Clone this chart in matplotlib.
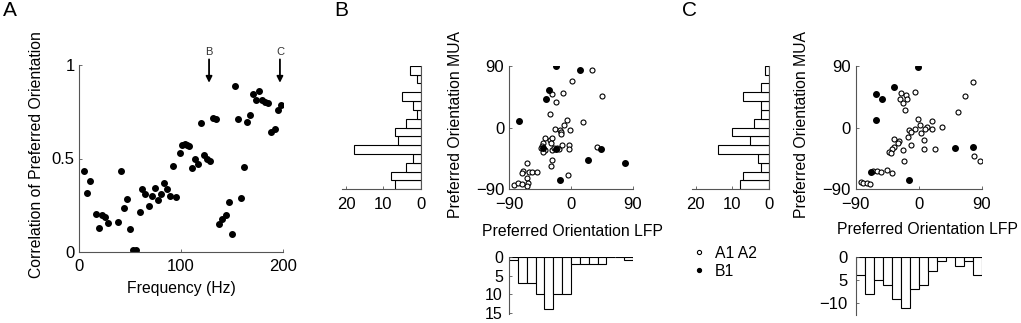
import numpy as np
import matplotlib
matplotlib.use("Agg")
import matplotlib.pyplot as plt
from matplotlib.lines import Line2D

plt.rcParams['font.family'] = ['Liberation Sans', 'DejaVu Sans']

W, H = 1021, 323

# ---------------- data ----------------
freq = [4.9, 8.2, 10.8, 17, 19.6, 22.9, 25.8, 28.8, 38.2, 40.8, 44.1, 47, 50, 53.3, 56.2,
        59.5, 62.1, 65, 68.3, 71.2, 74.2, 77.1, 80.1, 83.3, 86.3, 89.2, 92.5, 95.4, 98.7, 101,
        103.6, 105.9, 108.2, 110.5, 113.7, 116.7, 119.6, 122.5, 125.5, 128.4, 131.7, 134.6,
        137.6, 140.5, 143.8, 146.7, 149.7, 152.6, 155.6, 158.5, 161.8, 164.7, 167.6, 170.6,
        173.5, 176.8, 179.7, 182.7, 185.6, 188.6, 191.8, 195, 198]
corr = [0.434, 0.313, 0.379, 0.201, 0.128, 0.196, 0.189, 0.155, 0.158, 0.434, 0.233, 0.283,
        0.123, 0.009, 0.012, 0.212, 0.335, 0.311, 0.246, 0.302, 0.34, 0.278, 0.311, 0.368,
        0.338, 0.301, 0.459, 0.292, 0.530, 0.573, 0.575, 0.571, 0.566, 0.447, 0.498, 0.473,
        0.692, 0.521, 0.496, 0.486, 0.719, 0.712, 0.148, 0.174, 0.197, 0.265, 0.098, 0.890,
        0.710, 0.290, 0.452, 0.694, 0.733, 0.843, 0.811, 0.863, 0.813, 0.804, 0.795, 0.641,
        0.658, 0.760, 0.788]
arrow_freqs = [127.5, 197]
arrow_labels = ['B', 'C']

# Panel B scatter
b_open_x = [31, 1.5, -12.1, -27.6, 45.5, -21.8, -30.5, -6.3, 16.9, -10.2, -22.7, -16.4, -1.4,
            -15, -14, -37.3, -30.5, -28.1, -40.2, -42.2, -44.1, -37.8, -40.2, -29, -27.1,
            -16.9, -12.6, -2.4, -2.4, -28.1, -29.5, -64.4, -69.2, -70.7, -61, -56.1, -49.8,
            -63.4, -62, -64.4, -82.3, -76.5, -71.6, -4.8, 37.3, -20, -24]
b_open_y = [83.7, 67.7, 50.7, 48.3, 46.3, 36.6, 20.1, 11.4, 8.5, 3.6, -2.2, -4.2, -3.7,
            -7.1, -10, -14.8, -18.2, -15.8, -22.9, -26.3, -30.2, -32.6, -35, -22.9, -32.6,
            -31.1, -24.8, -24.8, -31.6, -47.2, -55.4, -52, -63.6, -66.1, -64.6, -65, -64.6,
            -73.8, -81, -84.9, -83.4, -81, -82.5, -69.8, -28.2, -30.5, -30]
b_fill_x = [-21.8, 12.8, -32, -35.8, -75, -21.8, 43.1, 24.2, -16, 78.4, -40.2]
b_fill_y = [89, 84.2, 54.2, 41.5, 9.9, -31.3, -31.3, -47.3, -76.9, -52.2, -30.3]
b_mua_counts = [7, 8, 4, 2, 18, 6, 7, 4, 1, 2, 5, 0, 1, 3]      # bottom (-90) to top (+90)
b_lfp_counts = [1, 7, 7, 10, 14, 10, 10, 2, 2, 2, 2, 0, 0, 1]   # left (-90) to right (+90)

# Panel C scatter
c_open_x = [78.1, 66.7, 56.7, -5.2, -25.2, -18.1, -26.7, -17.1, -21.9, -20, -1, 2.4, 19.5,
            11.4, 32.9, 19, 9, -4.8, -14.3, 3.3, -11, -15.7, 7.6, -27.6, -35.2, -29, -11,
            -34.8, -38, -41.9, -40, -22.9, 7.1, 23.8, 79, 87.1, -21, -65.7, -60, -53.3,
            -45.7, -38.6, -82.9, -79, -74.3, -69.5]
c_open_y = [66.7, 45.8, 23, 51.2, 49.7, 47.3, 41, 41, 36.1, 25.4, 11.8, 3.6, 8.9,
            0.7, 0.2, -2.7, -2.7, -2.7, -3.7, -7.6, -7.1, -14.4, -18.7, -20.2, -16.8, -23.1, -25.5,
            -28, -31.4, -35.2, -37.7, -32.8, -31.8, -31.8, -41.5, -48.8, -48.3, -63.4, -62.9, -65.3,
            -61.9, -65.8, -79.4, -80.9, -80.4, -81.8]
c_fill_x = [-1.4, -35.2, -61, -52.4, -61.4, 52.4, 77.1, -13.8, -68]
c_fill_y = [88.5, 59.4, 48.7, 42, 10.4, -30.4, -28.9, -76.5, -65]
c_mua_counts = [8, 7, 2, 3, 14, 5, 10, 4, 2, 2, 7, 2, 0, 1]
c_lfp_counts = [4, 8, 5, 6, 9, 11, 7, 6, 3, 1, 0, 2, 1, 4]

edges = np.linspace(-90, 90, 15)
binw = edges[1] - edges[0]

FS_LAB = 11.3
FS_TICK = 12
SPC = '#555555'

fig = plt.figure(figsize=(W / 100, H / 100), dpi=100)


def rect(l, r, t, b):
    return [l / W, 1 - b / H, (r - l) / W, (b - t) / H]


def style(ax, show):
    for s in ['left', 'right', 'top', 'bottom']:
        ax.spines[s].set_visible(s in show)
        ax.spines[s].set_color(SPC)
        ax.spines[s].set_linewidth(0.8)
    ax.tick_params(direction='in', length=2, width=0.6, color=SPC, labelsize=FS_TICK)


# ---------------- Panel A ----------------
axA = fig.add_axes(rect(79, 283, 65, 252))
style(axA, ['left', 'bottom'])
axA.plot(freq, corr, 'o', color='black', ms=4.0, mec='black')
axA.set_xlim(0, 200)
axA.set_ylim(0, 1)
axA.set_xticks([0, 100, 200])
axA.set_yticks([0, 0.5, 1])
axA.set_yticklabels(['0', '0.5', '1'])
axA.tick_params(axis='x', pad=5)
axA.tick_params(axis='y', pad=3)
for f, lab in zip(arrow_freqs, arrow_labels):
    axA.annotate('', xy=(f, 0.905), xytext=(f, 1.03), xycoords='data',
                 arrowprops=dict(arrowstyle='-|>', color='black', lw=1.3,
                                 mutation_scale=9, shrinkA=0, shrinkB=0),
                 annotation_clip=False)
    axA.text(f, 1.045, lab, ha='center', va='bottom', fontsize=8, color='#333333')

fig.text(37 / W, 1 - 155 / H, 'Correlation of Preferred Orientation', rotation=90,
         ha='center', va='center', fontsize=FS_LAB)
fig.text(181 / W, 1 - 288 / H, 'Frequency (Hz)', ha='center', va='center', fontsize=FS_LAB)


def panel(left_l, left_r, sc_l, sc_r, bot_t, bot_b, bot_ymax, bot_ticklabels,
          ox, oy, fx, fy, mua, lfp, ylab_x, xlab_x, xlab_y, hist_xmax, bot_pad, bot_fs):
    top, bot = 65.7, 189.3
    # left histogram (MUA)
    axh = fig.add_axes(rect(left_l, left_r, top, bot))
    style(axh, ['right', 'bottom'])
    axh.barh(edges[:-1], mua, height=binw, align='edge', color='white',
             edgecolor='black', linewidth=0.8)
    axh.set_xlim(hist_xmax, 0)
    axh.set_ylim(-90, 90)
    axh.set_xticks([20, 10, 0])
    axh.set_yticks([])
    axh.tick_params(axis='x', pad=5.5)
    # scatter
    axs = fig.add_axes(rect(sc_l, sc_r, top, bot))
    style(axs, ['left', 'bottom'])
    axs.plot(ox, oy, 'o', mfc='white', mec='black', ms=3.6, mew=0.8, linestyle='none')
    axs.plot(fx, fy, 'o', color='black', ms=4.0, linestyle='none')
    axs.set_xlim(-90, 90)
    axs.set_ylim(-90, 90)
    axs.set_xticks([-90, 0, 90])
    axs.set_yticks([-90, 0, 90])
    axs.tick_params(axis='x', pad=5.5)
    axs.tick_params(axis='y', pad=3.5)
    # bottom histogram (LFP)
    axb = fig.add_axes(rect(sc_l, sc_r, bot_t, bot_b))
    style(axb, ['left'])
    axb.bar(edges[:-1], lfp, width=binw, align='edge', color='white',
            edgecolor='black', linewidth=0.8)
    axb.set_xlim(-90, 90)
    axb.set_ylim(bot_ymax, 0)
    axb.set_xticks([])
    ticks = [0, 5, 10, 15][:len(bot_ticklabels)]
    axb.set_yticks(ticks)
    axb.set_yticklabels(bot_ticklabels)
    axb.tick_params(axis='y', pad=bot_pad, labelsize=bot_fs)
    # labels
    fig.text(ylab_x / W, 1 - 124 / H, 'Preferred Orientation MUA', rotation=90,
             ha='center', va='center', fontsize=FS_LAB)
    fig.text(xlab_x / W, 1 - xlab_y / H, 'Preferred Orientation LFP',
             ha='center', va='center', fontsize=FS_LAB)
    return axb


axbB = panel(341.7, 420.7, 509, 633, 256.7, 314.4, 15.3, ['0', '5', '10', '15'],
             b_open_x, b_open_y, b_fill_x, b_fill_y, b_mua_counts, b_lfp_counts,
             455, 572, 232, 21.2, 4.5, 11.5)
axbC = panel(691.7, 768.7, 855.7, 981.7, 256.7, 315, 12.5, ['0', '5', '\u221210'],
             c_open_x, c_open_y, c_fill_x, c_fill_y, c_mua_counts, c_lfp_counts,
             801.7, 927, 230, 21.1, 6, 12)

# legend
handles = [Line2D([], [], marker='o', mfc='white', mec='black', ms=3, mew=0.8, linestyle='none'),
           Line2D([], [], marker='o', color='black', ms=2.8, linestyle='none')]
fig.legend(handles, ['A1 A2', 'B1'], loc='upper left',
           bbox_to_anchor=(691 / W, 1 - 245.5 / H), frameon=False, fontsize=FS_LAB,
           handlelength=1.0, handletextpad=0.5, borderpad=0, borderaxespad=0,
           labelspacing=0.2)

# panel letters
for x, lab in [(3, 'A'), (334, 'B'), (682, 'C')]:
    fig.text(x / W, 1 - 1 / H, lab, ha='left', va='top', fontsize=15)

fig.savefig('out.png', dpi=100)
